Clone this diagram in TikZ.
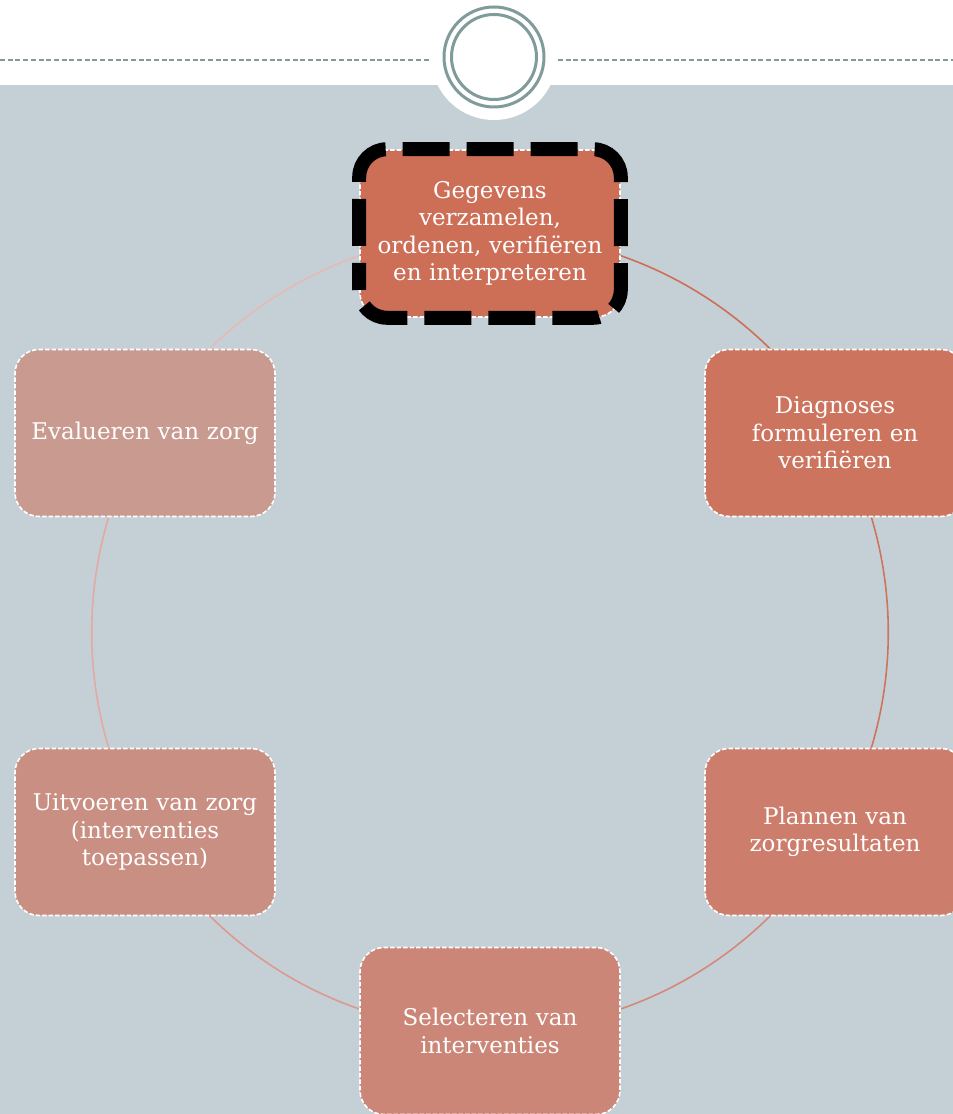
\documentclass[tikz,border=0pt]{standalone}
\usepackage{fontspec}
\setmainfont{DejaVu Serif}
\definecolor{bgc}{HTML}{C5D0D6}
\definecolor{ringc}{HTML}{7F9B9A}
\definecolor{ca}{HTML}{CD6E57}
\definecolor{cb}{HTML}{CD745F}
\definecolor{cc}{HTML}{CC7D6B}
\definecolor{cd}{HTML}{CB8677}
\definecolor{ce}{HTML}{CA8F83}
\definecolor{cf}{HTML}{C99A90}
\definecolor{la}{HTML}{CD6E57}
\definecolor{lb}{HTML}{CD745F}
\definecolor{lc}{HTML}{D5887A}
\definecolor{ld}{HTML}{DC998E}
\definecolor{le}{HTML}{E2AAA3}
\definecolor{lf}{HTML}{E6BAB3}
\pgfdeclarelayer{bg}
\pgfdeclarelayer{arcs}
\pgfsetlayers{bg,arcs,main}
\begin{document}
\begin{tikzpicture}[x=1pt,y=1pt,
  stage/.style={rounded corners=24pt, minimum width=260pt, minimum height=167pt,
    inner sep=0pt, text width=256pt, align=center, text=white,
    font=\fontsize{23}{27.5}\selectfont, draw=white, line width=1.6pt,
    dash pattern=on 4.5pt off 2pt},
  ringline/.style={draw=ringc, line width=3pt},
  headdash/.style={draw=ringc, line width=2.2pt, dash pattern=on 5pt off 2.7pt},
  cyc/.style={line width=1.6pt, bend left=30, looseness=0.913},
  focus/.style={draw=black, line width=14pt, rounded corners=28pt,
    dash pattern=on 47pt off 17pt, dash phase=20pt}]
\useasboundingbox (0,0) rectangle (953,1114);
\clip (0,0) rectangle (953,1114);
\begin{pgfonlayer}{bg}
  \fill[white] (0,0) rectangle (953,1114);
  \fill[bgc] (0,0) rectangle (953,1029);
  \draw[headdash] (0,1054) -- (430,1054);
  \draw[headdash] (558,1054) -- (953,1054);
  \fill[white] (494,1057) circle[radius=63pt];
  \draw[ringline] (494,1057) circle[radius=50pt];
  \draw[ringline] (494,1057) circle[radius=42.5pt];
\end{pgfonlayer}
\node[stage, fill=ca] (t) at (490,880.5) {Gegevens\\verzamelen,\\ordenen, verifiëren\\en interpreteren};
\node[stage, fill=cb] (d) at (835,681) {Diagnoses\\formuleren en\\verifiëren};
\node[stage, fill=cc] (p) at (835,282) {Plannen van\\zorgresultaten};
\node[stage, fill=cd] (s) at (490,83) {Selecteren van\\interventies};
\node[stage, fill=ce] (u) at (145,282) {Uitvoeren van zorg\\(interventies\\toepassen)};
\node[stage, fill=cf] (e) at (145,681) {Evalueren van zorg};
\begin{pgfonlayer}{arcs}
  \draw[cyc, la] (t.center) to (d.center);
  \draw[cyc, lb] (d.center) to (p.center);
  \draw[cyc, lc] (p.center) to (s.center);
  \draw[cyc, ld] (s.center) to (u.center);
  \draw[cyc, le] (u.center) to (e.center);
  \draw[cyc, lf] (e.center) to (t.center);
\end{pgfonlayer}
\draw[focus] (t.south west) rectangle (t.north east);
\end{tikzpicture}
\end{document}
